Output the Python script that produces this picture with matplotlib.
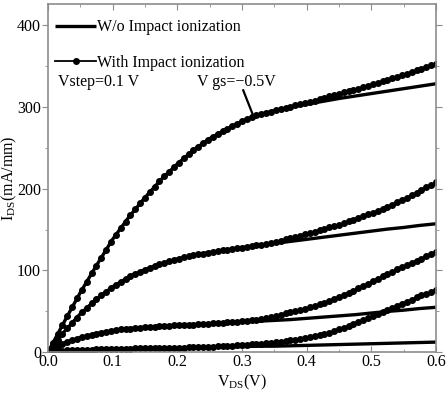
import numpy as np
import matplotlib
matplotlib.use("Agg")
import matplotlib.pyplot as plt

plt.rcParams['font.family'] = ['Liberation Serif', 'DejaVu Serif']
plt.rcParams['mathtext.fontset'] = 'custom'
plt.rcParams['mathtext.rm'] = 'Liberation Serif'

# coarse grid for curves without impact ionization (V)
vds_wo = np.arange(25) * 0.025
# fine grid for curves with impact ionization (V), one point per marker
vds_with = np.arange(81) * 0.0075

# W/o impact ionization, Vgs = -0.5 ... -0.8 V (mA/mm)
ids_wo_05 = [0, 37, 73, 106, 138, 165, 189, 211, 230, 247, 261, 272, 282, 290, 295,
             299.5, 303, 306.5, 310, 313, 316, 319, 322, 325, 328]
ids_wo_06 = [0, 25, 47, 65, 80, 92, 101, 108, 114, 118.5, 122, 125, 128, 130.5, 133,
             135.5, 138, 140.5, 143, 145.5, 148, 150.5, 152.5, 155, 157]
ids_wo_07 = [0, 11, 18, 23, 26.5, 29, 30.5, 32, 33, 34, 35, 36, 37, 38, 39,
             40, 41.5, 43, 44.5, 46, 48, 50, 51.5, 53.5, 55]
ids_wo_08 = [0, 2, 3, 3.5, 4, 4.5, 5, 5, 5.5, 6, 6, 6.5, 7, 7.5, 7.5,
             8, 8.5, 9, 9.5, 10, 10.5, 11, 11.5, 12, 12.5]

# With impact ionization (mA/mm)
ids_with_05 = [0, 11, 22, 33.5, 44.5, 55.5, 66, 76.5, 86.5, 96.5,
               106, 115.5, 125, 135, 143.5, 151.5, 159.5, 167.5, 175, 182,
               189, 195.5, 202, 209, 215, 220.5, 226, 231.5, 237, 242,
               247, 251, 255.5, 259.5, 263, 266.5, 270, 273, 276, 279,
               282, 284.5, 287, 289.5, 291, 292.5, 294, 295.5, 297, 298.5,
               300, 301.5, 303, 304.5, 306, 307.5, 309, 310.5, 312.5, 314,
               316, 317.5, 319, 320.5, 322, 324, 325.5, 327.5, 329, 331,
               332.5, 334.5, 336.5, 338.5, 340.5, 342.5, 344.5, 346.5, 348.5, 350.5,
               352.5]
ids_with_06 = [0, 7.5, 15, 22.5, 29.5, 36, 42.5, 49, 54.5, 60,
               65, 69.5, 74, 79, 82.5, 86, 89.5, 93, 96, 98.5,
               101, 103, 105, 107.5, 109.5, 111, 113, 114.5, 116, 117.5,
               118.5, 119.5, 120.5, 121.5, 122.5, 123.5, 124.5, 125.5, 126.5, 127,
               128, 129, 129.5, 130.5, 131.5, 132.5, 134, 135, 136.5, 138,
               139.5, 141, 142.5, 144, 145.5, 147.5, 149, 151, 152.5, 154.5,
               156, 158, 160, 162, 164, 166, 168.5, 170.5, 173, 175.5,
               178, 180.5, 183.5, 186, 189, 192, 195, 198, 201.5, 204.5,
               208]
ids_with_07 = [0, 4, 7.5, 10, 12.5, 14.5, 16.5, 18.5, 20, 21.5,
               23, 24, 25, 26, 27, 28, 28.5, 29, 29.5, 30,
               30.5, 31, 31.5, 32, 32.5, 32.5, 33, 33.5, 33.5, 34,
               34, 34.5, 34.5, 35, 35.5, 35.5, 36, 36.5, 37, 37.5,
               38, 38.5, 39.5, 40, 41, 42, 43.5, 44.5, 46, 47.5,
               49, 50.5, 52, 53.5, 55, 57, 58.5, 60.5, 63, 65.5,
               68, 70.5, 73, 75.5, 78.5, 81.5, 84, 87, 90, 93,
               96, 98.5, 101.5, 104, 106.5, 109.5, 112, 114.5, 117.5, 120,
               123]
ids_with_08 = [0, 0.8, 1.5, 2, 2.3, 2.6, 2.8, 3, 3.1, 3.2,
               3.5, 3.6, 3.8, 3.9, 4.1, 4.2, 4.4, 4.6, 4.7, 4.9,
               5, 5.1, 5.2, 5.3, 5.4, 5.5, 5.6, 5.8, 5.9, 6,
               6.2, 6.3, 6.5, 6.7, 7, 7.2, 7.5, 7.8, 8.1, 8.5,
               9, 9.4, 9.8, 10.2, 10.7, 11.3, 11.9, 12.5, 13.2, 14,
               14.8, 15.5, 16.5, 17.5, 18.5, 19.8, 21, 22.5, 24, 26,
               28, 30, 32, 34.5, 37, 39.5, 42, 44.5, 47, 49.5,
               52, 54.5, 57, 59.5, 62, 64.5, 67, 69.5, 71.5, 73.5,
               76]

fig = plt.figure(figsize=(4.48, 3.95), dpi=100)
ax = fig.add_axes([0.107, 0.108, 0.866, 0.881])

wo_curves = [ids_wo_05, ids_wo_06, ids_wo_07, ids_wo_08]
with_curves = [ids_with_05, ids_with_06, ids_with_07, ids_with_08]

for i, ids in enumerate(wo_curves):
    ax.plot(vds_wo, ids, color='black', lw=2.4, solid_capstyle='butt',
            label='W/o Impact ionization' if i == 0 else None)
for i, ids in enumerate(with_curves):
    ax.plot(vds_with, ids, color='black', lw=1.3, marker='o', ms=4.0,
            label='With Impact ionization' if i == 0 else None)

ax.set_xlim(0, 0.6)
ax.set_ylim(0, 425)
ax.set_xticks(np.arange(0, 0.61, 0.1))
ax.set_xticks(np.arange(0, 0.61, 0.05), minor=True)
ax.set_yticks([0, 100, 200, 300, 400])
ax.set_yticks(np.arange(0, 425, 50), minor=True)
ax.xaxis.set_major_formatter(plt.FormatStrFormatter('%.1f'))

for s in ax.spines.values():
    s.set_color('#8c8c8c')
    s.set_linewidth(1.2)
ax.tick_params(axis='both', which='both', color='#8c8c8c', labelsize=11.5,
               top=True, right=True, direction='in')
ax.tick_params(axis='y', which='both', left=True, direction='out')
ax.tick_params(axis='y', which='both', right=True)
ax.tick_params(which='major', length=4, pad=1)
ax.tick_params(which='minor', length=2.5)

ax.set_xlabel('V$_{\\mathrm{DS}}$(V)', fontsize=11.5, labelpad=2)
ax.set_ylabel('I$_{\\mathrm{DS}}$(mA/mm)', fontsize=11.5)
ax.yaxis.set_label_coords(-0.075, 0.5)

ax.legend(loc='upper left', bbox_to_anchor=(0.0015, 0.975), frameon=False,
          fontsize=11.5, handlelength=2.6, handletextpad=0.05,
          labelspacing=1.22, borderaxespad=0, borderpad=0.4)

ax.text(0.0155, 330, 'Vstep=0.1 V', fontsize=11.5, va='center')
ax.text(0.23, 330, 'V gs=\u22120.5V', fontsize=11.5, va='center')
ax.plot([0.302, 0.318], [320, 288], color='black', lw=1.6)

fig.savefig('out.png', dpi=100)
